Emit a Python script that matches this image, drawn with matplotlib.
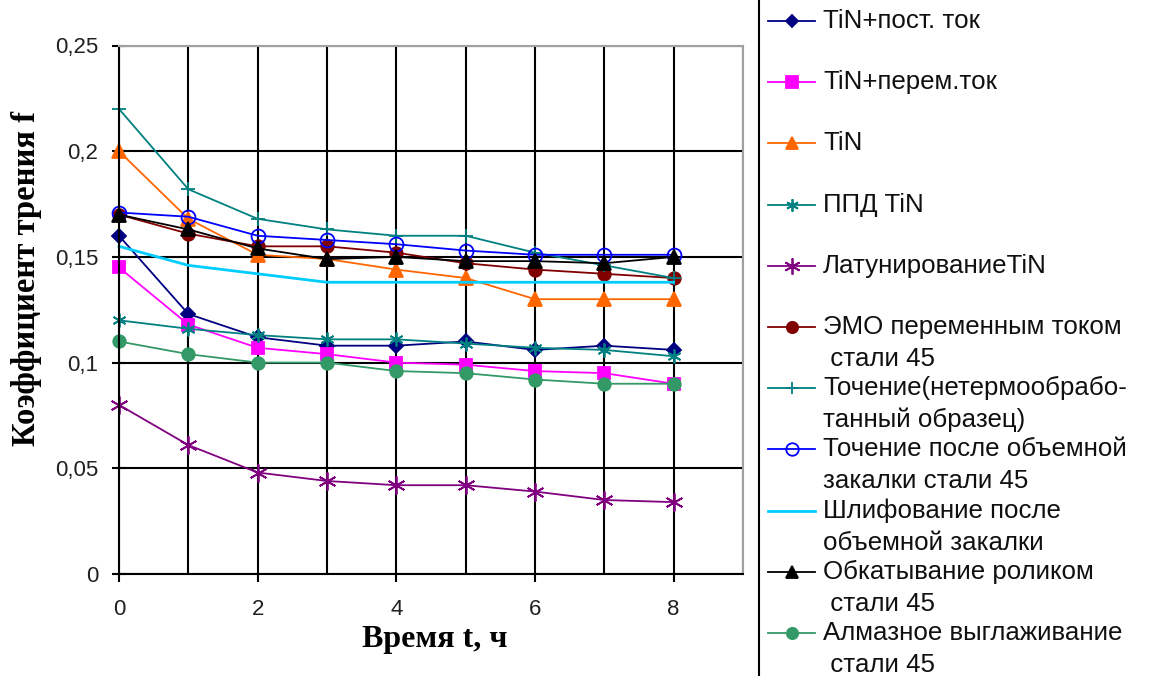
import matplotlib
matplotlib.use("Agg")
import matplotlib.pyplot as plt
from matplotlib.lines import Line2D
from matplotlib.ticker import MultipleLocator, FuncFormatter

# ---------------- data ----------------
t = [0, 1, 2, 3, 4, 5, 6, 7, 8]

tin_dc       = [0.160, 0.123, 0.112, 0.108, 0.108, 0.110, 0.106, 0.108, 0.106]
tin_ac       = [0.145, 0.118, 0.107, 0.104, 0.100, 0.099, 0.096, 0.095, 0.090]
tin          = [0.200, 0.168, 0.151, 0.149, 0.144, 0.140, 0.130, 0.130, 0.130]
ppd_tin      = [0.120, 0.116, 0.113, 0.111, 0.111, 0.109, 0.107, 0.106, 0.103]
brass_tin    = [0.080, 0.061, 0.048, 0.044, 0.042, 0.042, 0.039, 0.035, 0.034]
emo_ac       = [0.170, 0.161, 0.155, 0.155, 0.152, 0.147, 0.144, 0.142, 0.140]
turning_raw  = [0.220, 0.182, 0.168, 0.163, 0.160, 0.160, 0.152, 0.146, 0.140]
turning_hard = [0.171, 0.169, 0.160, 0.158, 0.156, 0.153, 0.151, 0.151, 0.151]
grinding     = [0.155, 0.146, 0.142, 0.138, 0.138, 0.138, 0.138, 0.138, 0.138]
rolling      = [0.170, 0.163, 0.154, 0.149, 0.150, 0.148, 0.148, 0.147, 0.150]
diamond      = [0.110, 0.104, 0.100, 0.100, 0.096, 0.095, 0.092, 0.090, 0.090]

labels = [
    "TiN+пост. ток",
    "TiN+перем.ток",
    "TiN",
    "ППД TiN",
    "ЛатунированиеTiN",
    "ЭМО переменным током\n стали 45",
    "Точение(нетермообрабо-\nтанный образец)",
    "Точение после объемной\nзакалки стали 45",
    "Шлифование после\nобъемной закалки",
    "Обкатывание роликом\n стали 45",
    "Алмазное выглаживание\n стали 45",
]

y_ticks = [0, 0.05, 0.1, 0.15, 0.2, 0.25]
x_ticks = [0, 2, 4, 6, 8]

series = [tin_dc, tin_ac, tin, ppd_tin, brass_tin, emo_ac,
          turning_raw, turning_hard, grinding, rolling, diamond]

# styles: color, marker, markersize, fill, linewidth
styles = [
    dict(color="#000080", marker="D", ms=7, mfc="#000080", lw=1.3),
    dict(color="#FF00FF", marker="s", ms=9, mfc="#FF00FF", lw=1.3),
    dict(color="#FF6600", marker="^", ms=10, mfc="#FF6600", lw=1.3),
    dict(color="#008080", marker=(6, 2, 0), ms=10, mfc="#008080", lw=1.3),
    dict(color="#800080", marker=(6, 2, 0), ms=13, mfc="#800080", lw=1.3),
    dict(color="#800000", marker="o", ms=9, mfc="#800000", lw=1.3),
    dict(color="#008080", marker="+", ms=10, mfc="#008080", lw=1.3),
    dict(color="#0000FF", marker="o", ms=10, mfc="none", lw=1.3),
    dict(color="#00CCFF", marker="None", ms=0, mfc="none", lw=2.0),
    dict(color="#000000", marker="^", ms=10, mfc="#000000", lw=1.3),
    dict(color="#339966", marker="o", ms=9, mfc="#339966", lw=1.3),
]

W, H = 1150, 676
fig = plt.figure(figsize=(W / 100, H / 100), dpi=100)
fig.patch.set_facecolor("white")

def fx(px):
    return px / W

def fy(py):
    return 1 - py / H

left, right, top, bottom = 119, 743, 45.5, 574
ax = fig.add_axes([fx(left), fy(bottom), fx(right) - fx(left), fy(top) - fy(bottom)])

for data, st in zip(series, styles):
    ax.plot(t, data, color=st["color"], lw=st["lw"], marker=st["marker"],
            markersize=st["ms"], markerfacecolor=st["mfc"],
            markeredgecolor=st["color"], markeredgewidth=1.3, clip_on=False)

ax.set_xlim(0, 9)
ax.set_ylim(0, 0.25)
ax.set_xticks(x_ticks)
ax.xaxis.set_minor_locator(MultipleLocator(1))
ax.set_yticks(y_ticks)

ax.grid(True, which="both", axis="x", color="black", lw=1.5)
ax.grid(True, which="major", axis="y", color="black", lw=1.5)
ax.set_axisbelow(True)

for s in ["top", "right"]:
    ax.spines[s].set_color("#A0A0A0")
    ax.spines[s].set_linewidth(1.5)
for s in ["left", "bottom"]:
    ax.spines[s].set_color("black")
    ax.spines[s].set_linewidth(1.5)

ax.tick_params(axis="x", which="major", direction="out", length=6, width=1.5,
               pad=12, labelsize=16)
ax.tick_params(axis="x", which="minor", length=0)
ax.tick_params(axis="y", which="major", direction="inout", length=10, width=1.5,
               pad=10, labelsize=16)

def ytick_fmt(v, pos):
    s = ("%g" % round(v, 3)).replace(".", ",")
    return s

ax.yaxis.set_major_formatter(FuncFormatter(ytick_fmt))
for lab in ax.get_xticklabels() + ax.get_yticklabels():
    lab.set_family("Liberation Sans")
    lab.set_color("#202020")

fig.text(fx(27), fy(278), "Коэффициент трения f", rotation=90, ha="center",
         va="center", family="Liberation Serif", fontweight="bold", fontsize=23.5)
fig.text(fx(435), fy(640), "Время t, ч", ha="center", va="center",
         family="Liberation Serif", fontweight="bold", fontsize=23)

# ---------------- legend (drawn manually) ----------------
fig.add_artist(Line2D([fx(759), fx(759)], [0, 1], color="black", lw=1.5,
                      transform=fig.transFigure))
y0, step, line_gap = 21, 61.2, 32
for i, (lab, st) in enumerate(zip(labels, styles)):
    y = y0 + i * step
    fig.add_artist(Line2D([fx(768), fx(815)], [fy(y), fy(y)], color=st["color"],
                          lw=st["lw"], transform=fig.transFigure))
    if st["marker"] != "None":
        fig.add_artist(Line2D([fx(791.5)], [fy(y)], color=st["color"],
                              marker=st["marker"], markersize=st["ms"] * 0.9,
                              markerfacecolor=st["mfc"],
                              markeredgecolor=st["color"], markeredgewidth=1.3,
                              transform=fig.transFigure))
    for k, part in enumerate(lab.split("\n")):
        fig.text(fx(823), fy(y + k * line_gap), part, ha="left", va="center",
                 family="Liberation Sans", fontsize=18.6, color="#101010")

fig.savefig("out.png", dpi=100, facecolor="white")
